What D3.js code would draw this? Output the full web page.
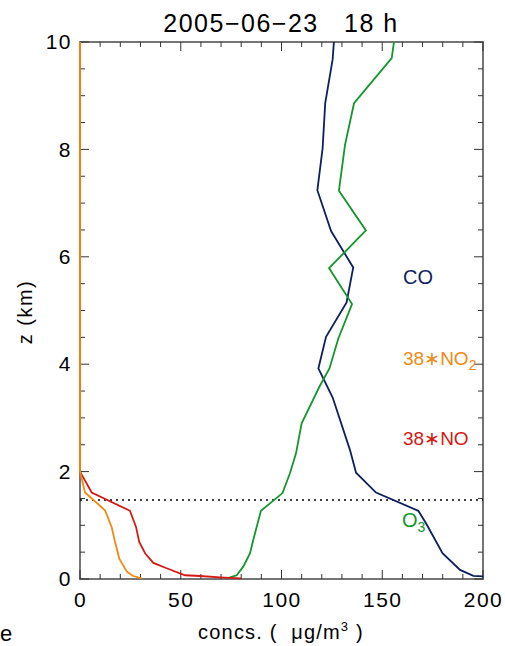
<!DOCTYPE html>
<html><head><meta charset="utf-8">
<script src="https://cdn.jsdelivr.net/npm/d3@7"></script>
<style>body{margin:0;background:#fff}text{font-family:"Liberation Sans",Arial,sans-serif}</style>
</head><body><svg id="c" width="505" height="646"></svg>
<script>
const title = "2005\u221206\u221223   18 h";
const xTicks = [0, 50, 100, 150, 200];
const yTicks = [0, 2, 4, 6, 8, 10];
const pblHeight = 1.47;

const coZ  = [0.05, 0.06, 0.17, 0.48, 1.02, 1.27, 1.61, 1.98, 2.40, 3.38, 3.92, 4.51, 5.15, 5.80, 6.48, 7.24, 8.02, 8.86, 9.68, 10];
const coX  = [200, 195.2, 188.6, 179.9, 172, 167.9, 146.9, 137, 134, 125.4, 118.3, 122.1, 132.3, 135.6, 124.6, 117.8, 120.4, 121.7, 125.4, 126];

const o3Z  = [0.03, 0.07, 0.23, 0.48, 0.73, 1.27, 1.60, 1.97, 2.34, 2.90, 3.58, 3.92, 4.48, 5.12, 5.79, 6.49, 7.23, 8.08, 8.86, 9.70, 10];
const o3X  = [74.4, 77.8, 81, 84.4, 86, 89.8, 100.5, 104.2, 107.2, 110, 118.8, 123.8, 128.2, 135.0, 123.6, 141.9, 128.5, 131.5, 136, 154.7, 155.8];

const noZ  = [0.01, 0.03, 0.056, 0.07, 0.20, 0.30, 0.48, 0.69, 0.97, 1.27, 1.61, 2.0, 10];
const noX  = [79.9, 69.5, 59.6, 52.1, 43, 36.4, 32.3, 29.4, 27.8, 24.8, 5.8, 0, 0];

const no2Z = [0.01, 0.06, 0.14, 0.38, 0.69, 0.97, 1.28, 1.61, 2.0, 10];
const no2X = [30.6, 26.1, 23.2, 19.5, 17.4, 15.7, 12.4, 2.5, 0, 0];

const svg = d3.select("#c");
const x = d3.scaleLinear().domain([0, 200]).range([80, 483]);
const y = d3.scaleLinear().domain([0, 10]).range([579, 42]);
const axisCol = "#666";

// frame
svg.append("rect").attr("x", 80).attr("y", 42).attr("width", 403).attr("height", 537)
  .attr("fill", "none").attr("stroke", axisCol).attr("stroke-width", 1.8);

// axes with inward ticks
const minorX = d3.range(0, 201, 10), minorY = d3.range(0, 10.01, 0.5);
const g = svg.append("g");
minorX.forEach(v => {
  const len = v % 50 === 0 ? 9 : 5;
  g.append("line").attr("x1", x(v)).attr("x2", x(v)).attr("y1", 579).attr("y2", 579 - len).attr("stroke", "#333");
  g.append("line").attr("x1", x(v)).attr("x2", x(v)).attr("y1", 42).attr("y2", 42 + len).attr("stroke", "#333");
});
minorY.forEach(v => {
  const len = Math.abs(v % 2) < 1e-6 ? 9 : 5;
  g.append("line").attr("y1", y(v)).attr("y2", y(v)).attr("x1", 80).attr("x2", 80 + len).attr("stroke", "#333");
  g.append("line").attr("y1", y(v)).attr("y2", y(v)).attr("x1", 483).attr("x2", 483 - len).attr("stroke", "#333");
});
const xa = svg.append("g").attr("transform", "translate(0,579)")
  .call(d3.axisBottom(x).tickValues(xTicks).tickSize(0).tickPadding(13));
xa.select(".domain").remove();
xa.selectAll("text").attr("font-size", 21).attr("fill", "#000").attr("letter-spacing", 1.5).style("font-family", "Liberation Sans, Arial");
const ya = svg.append("g").attr("transform", "translate(80,0)")
  .call(d3.axisLeft(y).tickValues(yTicks).tickSize(0).tickPadding(8));
ya.select(".domain").remove();
ya.selectAll("text").attr("font-size", 21).attr("fill", "#000").attr("letter-spacing", 1.5).style("font-family", "Liberation Sans, Arial");

// pbl dotted
svg.append("line").attr("x1", x(0)).attr("x2", x(200)).attr("y1", y(pblHeight)).attr("y2", y(pblHeight))
  .attr("stroke", "#000").attr("stroke-width", 1.5).attr("stroke-dasharray", "2,4");

const line = d3.line().x(d => x(d[0])).y(d => y(d[1]));
function draw(xs, zs, col) {
  svg.append("path").datum(xs.map((v, i) => [v, zs[i]])).attr("d", line)
    .attr("fill", "none").attr("stroke", col).attr("stroke-width", 1.8);
}
draw(coX, coZ, "#0d1f5e");
draw(o3X, o3Z, "#14962c");
draw(noX, noZ, "#d41a12");
draw(no2X, no2Z, "#f08a12");

// labels
svg.append("text").attr("x", 403).attr("y", 284).attr("font-size", 20).attr("fill", "#0d1f5e").text("CO");
const t2 = svg.append("text").attr("x", 403).attr("y", 365).attr("font-size", 19).attr("fill", "#f08a12");
t2.append("tspan").text("38\u2217NO");
t2.append("tspan").attr("dy", 5).attr("font-size", 14).text("2");
svg.append("text").attr("x", 403).attr("y", 445).attr("font-size", 19).attr("fill", "#d41a12").text("38\u2217NO");
const t3 = svg.append("text").attr("x", 402).attr("y", 527).attr("font-size", 20).attr("fill", "#14962c");
t3.append("tspan").text("O");
t3.append("tspan").attr("dy", 5).attr("font-size", 14).text("3");

// titles
svg.append("text").attr("x", 281).attr("y", 32).attr("text-anchor", "middle").attr("font-size", 25)
  .attr("letter-spacing", 1.5).style("white-space", "pre").attr("xml:space", "preserve").text(title);
const xl = svg.append("text").attr("x", 281).attr("y", 639).attr("text-anchor", "middle").attr("font-size", 20)
  .attr("letter-spacing", 1.2).style("white-space", "pre");
xl.append("tspan").text("concs. (  \u03bcg/m");
xl.append("tspan").attr("dy", -8).attr("font-size", 13).text("3");
xl.append("tspan").attr("dy", 8).text(" )");
svg.append("text").attr("transform", "translate(32,312) rotate(-90)").attr("text-anchor", "middle").attr("font-size", 20)
  .attr("letter-spacing", 1.5).text("z (km)");
svg.append("text").attr("x", 0).attr("y", 641).attr("font-size", 22).text("e");
</script></body></html>
